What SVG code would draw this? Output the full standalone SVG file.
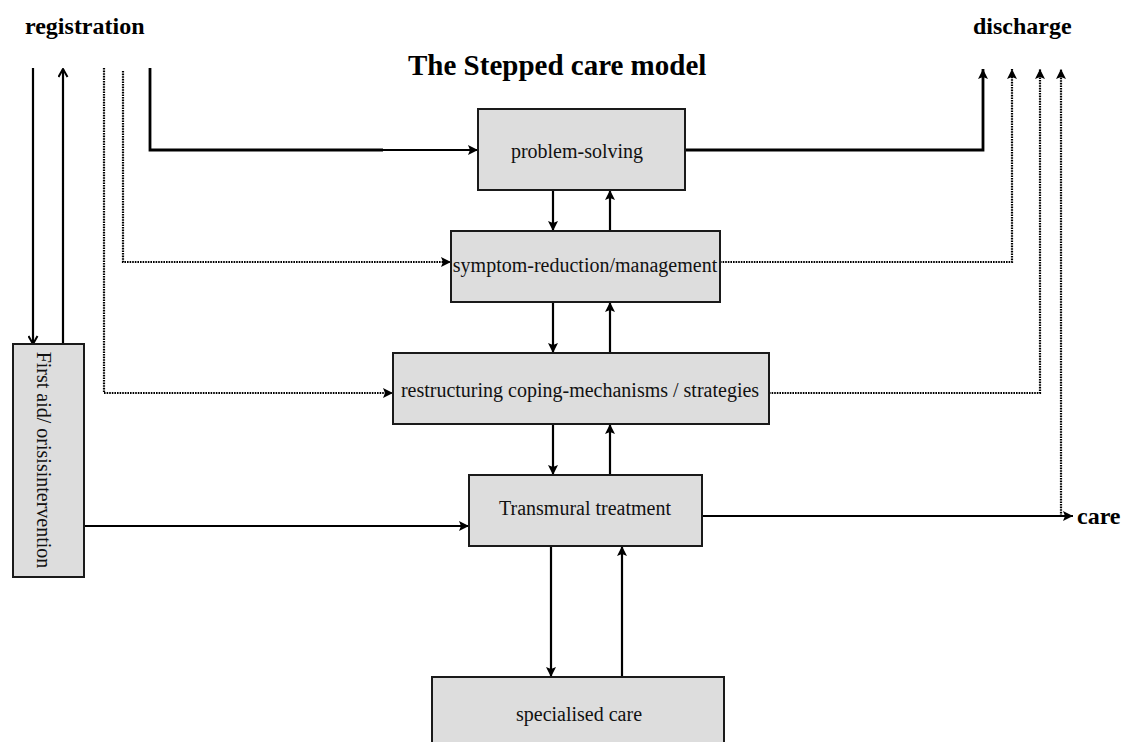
<svg xmlns="http://www.w3.org/2000/svg" width="1124" height="742" viewBox="0 0 1124 742">
<style>
.box{fill:#dddddd;stroke:#1a1a1a;stroke-width:2}
.t{font-family:"Liberation Serif","Times New Roman",serif;font-size:20px;fill:#111}
.b{font-family:"Liberation Serif","Times New Roman",serif;font-size:24px;font-weight:bold;fill:#000}
.s{fill:none;stroke:#000;stroke-width:2.2}
.th{fill:none;stroke:#000;stroke-width:2.8}
.d{fill:none;stroke:#000;stroke-width:2.2;stroke-dasharray:1.6 1}
</style>
<defs>
<marker id="a" viewBox="0 0 10 10" refX="10" refY="5" markerWidth="11" markerHeight="10" markerUnits="userSpaceOnUse" orient="auto"><path d="M0,0 L10,5 L0,10 L2,5 z" fill="#000"/></marker>
<marker id="o" viewBox="0 0 10 10" refX="9" refY="5" markerWidth="10" markerHeight="11" markerUnits="userSpaceOnUse" orient="auto"><path d="M1,0.5 L9,5 L1,9.5" fill="none" stroke="#000" stroke-width="2"/></marker>
</defs>
<rect width="1124" height="742" fill="#fff"/>
<text class="b" x="25" y="34">registration</text>
<text class="b" x="973" y="34">discharge</text>
<text class="b" x="408" y="75" style="font-size:29px">The Stepped care model</text>
<text class="b" x="1077" y="524">care</text>
<g id="connectors">
<path class="s" d="M33,68 V344" marker-end="url(#o)"/>
<path class="s" d="M63,344 V69" marker-end="url(#o)"/>
<path class="d" d="M104,68 V393 H393" marker-end="url(#a)"/>
<path class="d" d="M123,71 V262 H451" marker-end="url(#a)"/>
<path class="th" d="M150,68 V150 H383"/>
<path class="s" d="M383,150 H478" marker-end="url(#a)"/>
<path class="s" d="M84,526 H469" marker-end="url(#a)"/>
<path class="th" d="M685,150 H983 V69" marker-end="url(#a)"/>
<path class="d" d="M720,262 H1012 V69" marker-end="url(#a)"/>
<path class="d" d="M769,393 H1040 V69" marker-end="url(#a)"/>
<path class="d" d="M1061,516 V69" marker-end="url(#a)"/>
<path class="s" d="M702,516 H1073" marker-end="url(#a)"/>
<path class="s" d="M553,190 V231" marker-end="url(#a)"/>
<path class="s" d="M610,231 V190" marker-end="url(#a)"/>
<path class="s" d="M553,302 V353" marker-end="url(#a)"/>
<path class="s" d="M610,353 V302" marker-end="url(#a)"/>
<path class="s" d="M553,424 V475" marker-end="url(#a)"/>
<path class="s" d="M610,475 V424" marker-end="url(#a)"/>
<path class="s" d="M551,546 V677" marker-end="url(#a)"/>
<path class="s" d="M622,677 V546" marker-end="url(#a)"/>
</g>
<g id="problem-solving"><rect class="box" x="478" y="109" width="207" height="81"/><text class="t" x="577" y="158" text-anchor="middle">problem-solving</text></g>
<g id="symptom"><rect class="box" x="451" y="231" width="269" height="71"/><text class="t" x="585" y="272" text-anchor="middle">symptom-reduction/management</text></g>
<g id="restructuring"><rect class="box" x="393" y="353" width="376" height="71"/><text class="t" x="580" y="397" text-anchor="middle">restructuring coping-mechanisms / strategies</text></g>
<g id="transmural"><rect class="box" x="469" y="475" width="233" height="71"/><text class="t" x="585" y="515" text-anchor="middle">Transmural treatment</text></g>
<g id="specialised"><rect class="box" x="432" y="677" width="292" height="70"/><text class="t" x="579" y="721" text-anchor="middle">specialised care</text></g>
<g id="first-aid"><rect class="box" x="13" y="344" width="71" height="233"/><text class="t" transform="translate(37,460) rotate(90)" text-anchor="middle">First aid/ orisisintervention</text></g>
</svg>
